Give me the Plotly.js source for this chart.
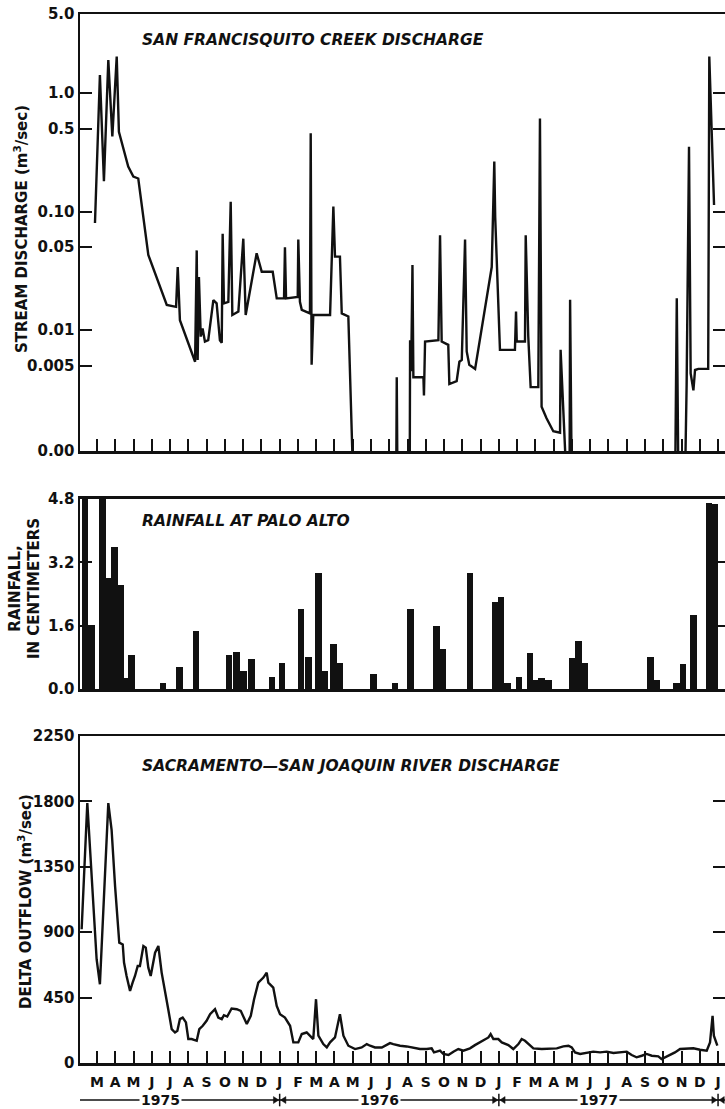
<!DOCTYPE html>
<html>
<head>
<meta charset="utf-8">
<script src="https://cdn.plot.ly/plotly-3.0.1.min.js"></script>
<style>html,body{margin:0;padding:0;background:#fff;}</style>
</head>
<body>
<div id="chart" style="width:725px;height:1109px;"></div>
<script>
// Time axis unit: months since 1 January 1975 (2 = March 1975, 36 = January 1978)
const monthTicks = [2,3,4,5,6,7,8,9,10,11,12,13,14,15,16,17,18,19,20,21,22,23,24,25,26,27,28,29,30,31,32,33,34,35,36];
const monthLabels = ['M','A','M','J','J','A','S','O','N','D','J','F','M','A','M','J','J','A','S','O','N','D','J','F','M','A','M','J','J','A','S','O','N','D','J'];
const yearLabels = ['1975','1976','1977'];
const yearLabelPos = [5.45, 17.44, 29.43];
const yearBounds = [12, 24, 36];

// San Francisquito Creek discharge, m3/sec (0 = dry)
const creekT = [1.89,2.16,2.38,2.62,2.84,3.08,3.20,3.71,3.99,4.26,4.81,5.82,6.33,6.42,6.51,6.54,7.37,7.46,7.51,7.58,7.68,7.78,7.91,8.09,8.37,8.55,8.73,8.83,8.88,8.95,9.19,9.32,9.41,9.74,10.01,10.14,10.74,11.02,11.62,11.84,12.24,12.29,12.35,12.99,13.02,13.11,13.21,13.66,13.70,13.75,13.84,14.76,14.94,15.03,15.30,15.40,15.76,16.03,18.38,18.41,18.45,19.12,19.14,19.20,19.27,19.32,19.87,19.90,19.96,20.69,20.78,20.87,21.23,21.29,21.69,21.84,21.97,22.15,22.24,22.38,22.70,23.61,23.70,23.75,23.80,23.88,24.06,24.88,24.94,24.98,25.43,25.47,25.61,25.74,26.16,26.25,26.34,26.61,26.98,27.35,27.38,27.71,27.87,27.90,27.99,33.65,33.74,33.83,34.19,34.28,34.41,34.50,34.65,34.74,34.92,35.46,35.52,35.78];
const creekQ = [0.080,1.42,0.18,1.90,0.43,2.03,0.47,0.24,0.197,0.19,0.043,0.0163,0.0157,0.034,0.0157,0.0121,0.0054,0.047,0.0056,0.028,0.0088,0.0103,0.0080,0.0082,0.0179,0.0168,0.0082,0.0078,0.065,0.0168,0.0173,0.121,0.0134,0.0143,0.059,0.0134,0.0444,0.031,0.031,0.0185,0.0185,0.050,0.0185,0.019,0.058,0.0173,0.0148,0.0138,0.457,0.0051,0.0134,0.0134,0.11,0.0416,0.0416,0.0138,0.0130,0,0,0.0040,0,0,0.0082,0.0045,0.0354,0.0040,0.0040,0.0028,0.0080,0.0082,0.063,0.0080,0.0075,0.0035,0.0037,0.0054,0.0056,0.058,0.0066,0.0051,0.0047,0.034,0.125,0.264,0.09,0.0416,0.0068,0.0068,0.0143,0.0080,0.0080,0.063,0.0088,0.0033,0.0033,0.61,0.00225,0.0018,0.0014,0.00136,0.0068,0,0,0.018,0,0,0.0185,0,0,0.0035,0.352,0.0043,0.0031,0.0046,0.0047,0.0047,2.03,0.1135];

// Rainfall at Palo Alto, cm
const rainT = [1.34,1.70,2.30,2.66,2.96,3.29,3.56,3.89,5.61,6.52,7.42,9.23,9.64,10.02,10.46,11.58,12.13,13.17,13.58,14.13,14.48,14.95,15.30,17.13,18.32,19.15,20.58,20.94,22.42,23.79,24.12,24.49,25.10,25.70,26.03,26.35,26.71,28.02,28.36,28.72,32.31,32.66,33.74,34.08,34.67,35.50,35.82];
const rainCm = [5.2,1.62,6.0,2.80,3.58,2.63,0.27,0.86,0.16,0.55,1.47,0.86,0.94,0.46,0.75,0.31,0.65,2.01,0.80,2.92,0.46,1.13,0.65,0.37,0.14,2.01,1.59,1.00,2.92,2.21,2.33,0.16,0.31,0.92,0.24,0.29,0.24,0.79,1.22,0.67,0.82,0.23,0.16,0.63,1.87,4.70,4.68];

// Sacramento-San Joaquin delta outflow, m3/sec
const deltaT = [1.16,1.47,1.98,2.16,2.62,2.80,2.99,3.22,3.41,3.48,3.62,3.81,3.95,4.08,4.23,4.35,4.54,4.67,4.81,4.94,5.18,5.36,5.54,5.72,5.90,6.09,6.27,6.40,6.54,6.69,6.87,7.00,7.18,7.46,7.60,7.79,8.00,8.19,8.46,8.64,8.83,8.95,9.13,9.37,9.65,9.87,10.20,10.42,10.60,10.83,11.11,11.29,11.38,11.65,11.84,12.02,12.29,12.57,12.75,13.02,13.21,13.48,13.84,13.99,14.12,14.39,14.58,14.76,15.03,15.30,15.49,15.76,16.13,16.49,16.77,16.95,17.22,17.59,18.04,18.22,18.59,18.95,19.32,19.68,20.05,20.32,20.45,20.78,20.96,21.24,21.51,21.78,22.06,22.42,22.69,22.88,23.15,23.43,23.55,23.70,23.97,24.16,24.52,24.79,25.07,25.25,25.43,25.61,25.89,26.35,26.71,27.17,27.53,27.81,27.99,28.17,28.45,28.81,29.17,29.54,29.90,30.27,30.63,31.00,31.27,31.54,31.82,32.09,32.37,32.73,32.91,33.28,33.64,33.92,34.28,34.65,35.01,35.38,35.56,35.70,35.77,35.96];
const deltaQ = [920,1788,714,542,1788,1605,1217,828,816,691,599,496,553,599,668,668,805,794,656,599,759,805,622,508,370,233,210,222,302,313,279,165,165,153,233,256,290,336,370,313,302,329,320,375,370,359,268,325,439,553,588,622,553,519,393,336,313,256,142,142,199,210,165,439,188,130,107,142,176,336,188,119,96,107,130,119,107,107,137,130,119,114,107,96,96,101,73,85,62,55,78,96,85,101,123,137,153,176,199,165,165,142,123,96,130,165,153,130,101,96,96,101,114,119,107,73,62,69,78,73,78,69,73,78,55,39,50,62,50,46,27,50,73,96,101,101,91,85,142,325,188,119];

const creekTicks = [0.005,0.01,0.05,0.1,0.5,1];
const creekTickText = ['0.005','0.01','0.05','0.10','0.5','1.0'];
const rainTicks = [0,1.6,3.2,4.8];
const rainTickText = ['0.0','1.6','3.2','4.8'];
const deltaTicks = [0,450,900,1350,1800,2250];

// ---------- plotting ----------
const INK = '#111';
const XR = [1.07, 36.38];
const LOGR = [-3.021, 0.667];           // log10 range of creek axis (~0.00095 .. ~4.6)
const DRY = Math.pow(10, -3.3);          // dry days drawn on the bottom edge
const creekPlot = creekQ.map(v => v === 0 ? DRY : v);
const lowV = Math.pow(10, LOGR[0] + 0.001), topV = Math.pow(10, LOGR[1] - 0.001);

const tickFont = {family:'DejaVu Sans', size:15, color:INK, weight:'bold'};
const yBase = {showline:true, mirror:'ticks', linewidth:2.5, linecolor:INK, ticks:'inside', ticklen:12, tickwidth:2, tickcolor:INK,
  showgrid:false, zeroline:false, tickfont:tickFont, fixedrange:true};
const xBase = {range:XR, showline:true, mirror:true, linewidth:2.5, linecolor:INK, showgrid:false, zeroline:false, fixedrange:true};

const traces = [
  {x:creekT, y:creekPlot, xaxis:'x', yaxis:'y', type:'scatter', mode:'lines',
   line:{color:INK, width:2.4}, hoverinfo:'skip'},
  {x:rainT, y:rainCm, xaxis:'x2', yaxis:'y2', type:'bar', width:0.37,
   marker:{color:INK, line:{width:0}}, hoverinfo:'skip'},
  {x:deltaT, y:deltaQ, xaxis:'x3', yaxis:'y3', type:'scatter', mode:'lines',
   line:{color:INK, width:2.4}, hoverinfo:'skip'}
];

const D1 = [0.5834, 1.0], D2 = [0.3565, 0.5377], D3 = [0.0, 0.3117];
const yLine = -0.0353;
const shapes = [
  {type:'line', xref:'x3', yref:'paper', x0:XR[0], x1:XR[1], y0:yLine, y1:yLine, line:{color:INK, width:1.5}}
];
yearBounds.forEach(b => {
  shapes.push({type:'line', xref:'x3', yref:'paper', x0:b, x1:b, y0:yLine-0.006, y1:yLine+0.006, line:{color:INK, width:1.5}});
  shapes.push({type:'path', xref:'x3', yref:'paper', fillcolor:INK, line:{color:INK, width:0.5},
    path:`M ${b-0.05} ${yLine} L ${b-0.34} ${yLine+0.0033} L ${b-0.34} ${yLine-0.0033} Z`});
  shapes.push({type:'path', xref:'x3', yref:'paper', fillcolor:INK, line:{color:INK, width:0.5},
    path:`M ${b+0.05} ${yLine} L ${b+0.34} ${yLine+0.0033} L ${b+0.34} ${yLine-0.0033} Z`});
});

const titleFont = {family:'DejaVu Sans', size:15.5, color:INK, weight:'bold', style:'italic'};
const axFont = {family:'DejaVu Sans', size:15, color:INK, weight:'bold'};
const annotations = [
  {xref:'paper', yref:'paper', x:0.093, y:0.9752, xanchor:'left', yanchor:'middle', showarrow:false,
   text:'SAN FRANCISQUITO CREEK DISCHARGE', font:titleFont},
  {xref:'paper', yref:'paper', x:0.093, y:0.5167, xanchor:'left', yanchor:'middle', showarrow:false,
   text:'RAINFALL AT PALO ALTO', font:titleFont},
  {xref:'paper', yref:'paper', x:0.093, y:0.2831, xanchor:'left', yanchor:'middle', showarrow:false,
   text:'SACRAMENTO\u2014SAN JOAQUIN RIVER DISCHARGE', font:titleFont},
  {xref:'paper', yref:'paper', x:-0.0915, y:0.795, xanchor:'center', yanchor:'middle', showarrow:false, textangle:-90,
   text:'STREAM DISCHARGE (m<sup>3</sup>/sec)', font:axFont},
  {xref:'paper', yref:'paper', x:-0.0853, y:0.4528, xanchor:'center', yanchor:'middle', showarrow:false, textangle:-90,
   text:'RAINFALL,<br>IN CENTIMETERS', font:axFont, align:'center'},
  {xref:'paper', yref:'paper', x:-0.0853, y:0.1544, xanchor:'center', yanchor:'middle', showarrow:false, textangle:-90,
   text:'DELTA OUTFLOW (m<sup>3</sup>/sec)', font:axFont}
];
yearLabels.forEach((lab, i) => {
  annotations.push({xref:'x3', yref:'paper', x:yearLabelPos[i], y:yLine, xanchor:'center', yanchor:'middle',
    showarrow:false, text:lab, bgcolor:'#fff', borderpad:1,
    font:{family:'DejaVu Sans', size:14, color:INK, weight:'bold'}});
});

const layout = {
  width:725, height:1109,
  margin:{l:80, r:0, t:14, b:46},
  paper_bgcolor:'#fff', plot_bgcolor:'#fff', showlegend:false,
  font:{family:'DejaVu Sans', color:INK},
  xaxis: Object.assign({}, xBase, {anchor:'y', ticks:'inside', ticklen:12, tickwidth:2, tickcolor:INK,
    tickmode:'array', tickvals:monthTicks, showticklabels:false}),
  xaxis2: Object.assign({}, xBase, {anchor:'y2', ticks:'', showticklabels:false}),
  xaxis3: Object.assign({}, xBase, {anchor:'y3', ticks:'inside', ticklen:12, tickwidth:2, tickcolor:INK,
    tickmode:'array', tickvals:monthTicks, ticktext:monthLabels, ticklabelstandoff:5,
    tickfont:{family:'DejaVu Sans', size:14, color:INK, weight:'bold'}}),
  yaxis: Object.assign({}, yBase, {domain:D1, anchor:'x', type:'log', range:LOGR, tickmode:'array',
    tickvals:[lowV].concat(creekTicks, [topV]), ticktext:['0.00'].concat(creekTickText, ['5.0'])}),
  yaxis2: Object.assign({}, yBase, {domain:D2, anchor:'x2', range:[0,4.8], tickmode:'array',
    tickvals:rainTicks, ticktext:rainTickText}),
  yaxis3: Object.assign({}, yBase, {domain:D3, anchor:'x3', range:[0,2250], tickmode:'array',
    tickvals:deltaTicks, ticktext:deltaTicks.map(String)}),
  bargap:0,
  shapes:shapes,
  annotations:annotations
};

Plotly.newPlot('chart', traces, layout, {staticPlot:true, displayModeBar:false});
</script>
</body>
</html>
